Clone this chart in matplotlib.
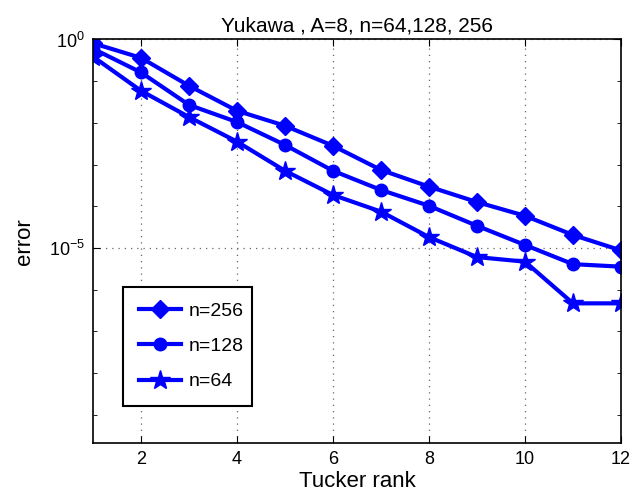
import numpy as np
import matplotlib.pyplot as plt
import matplotlib as mpl
from matplotlib.ticker import LogLocator, NullFormatter

plt.rcParams['font.family'] = ['Liberation Sans', 'DejaVu Sans']
plt.rcParams['mathtext.fontset'] = 'custom'
plt.rcParams['mathtext.rm'] = 'Liberation Sans'

rank = [1, 2, 3, 4, 5, 6, 7, 8, 9, 10, 11, 12]
# log10 of the error for each grid size
log_err_256 = [-0.09, -0.44, -1.11, -1.71, -2.07, -2.55, -3.13, -3.53, -3.90, -4.23, -4.69, -5.06]
log_err_128 = [-0.22, -0.79, -1.57, -1.98, -2.53, -3.15, -3.61, -3.99, -4.47, -4.93, -5.39, -5.45]
log_err_64 = [-0.41, -1.23, -1.86, -2.45, -3.15, -3.73, -4.13, -4.74, -5.22, -5.33, -6.33, -6.33]

err_256 = 10 ** np.array(log_err_256)
err_128 = 10 ** np.array(log_err_128)
err_64 = 10 ** np.array(log_err_64)

fig = plt.figure(figsize=(6.39, 5.03), dpi=100)
axs = fig.add_axes([0.1455, 0.1193, 0.8263, 0.8022])

axs.semilogy(rank, err_256, '-D', color='blue', lw=3, ms=9, label='n=256')
axs.semilogy(rank, err_128, '-o', color='blue', lw=3, ms=9, label='n=128')
axs.semilogy(rank, err_64, '-*', color='blue', lw=3, ms=15, label='n=64')

axs.set_xlim(1, 12)
axs.set_ylim(10 ** -9.68, 1)
axs.set_xticks([2, 4, 6, 8, 10, 12])
axs.set_yticks([1e0, 1e-5])
axs.set_yticklabels([r'$10^{0}$', r'$10^{-5}$'])
axs.yaxis.set_minor_locator(LogLocator(base=10, subs=(1.0,), numticks=20))
axs.yaxis.set_minor_formatter(NullFormatter())
axs.tick_params(which='both', direction='in', top=True, right=True, labelsize=13)
axs.tick_params(which='major', length=5, pad=6)
axs.tick_params(which='minor', length=3)
axs.grid(True, which='major', linestyle=(0, (1, 4)), color='0.4', lw=0.9)
for s in axs.spines.values():
    s.set_linewidth(1.2)

axs.set_title('Yukawa , A=8, n=64,128, 256', fontsize=15)
axs.set_xlabel('Tucker rank', fontsize=16, labelpad=2)
axs.set_ylabel('error', fontsize=16, labelpad=10)

leg = axs.legend(loc='lower left', bbox_to_anchor=(0.057, 0.092, 0.244, 0.336), mode='expand',
                 fancybox=False, edgecolor='black', framealpha=1, fontsize=14,
                 handlelength=2.2, borderaxespad=0, labelspacing=0.9, borderpad=0.8,
                 handletextpad=0.4)
leg.get_frame().set_linewidth(1.5)

fig.savefig('out.png', dpi=100)
